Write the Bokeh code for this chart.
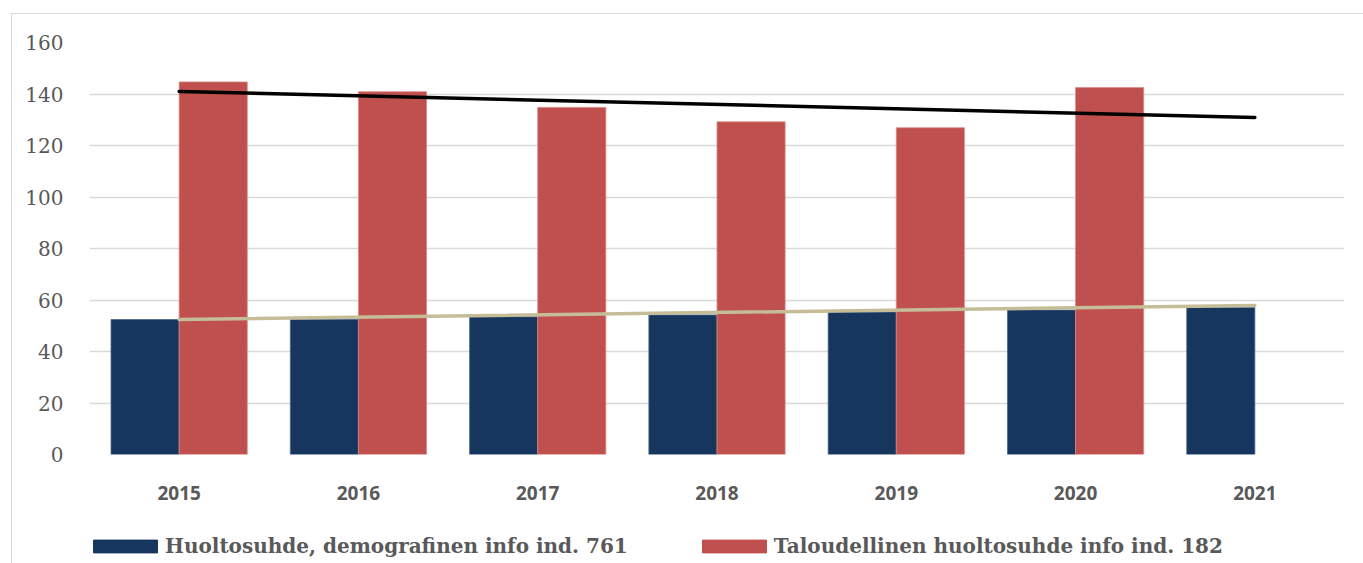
from bokeh.plotting import figure
from bokeh.layouts import column
from bokeh.models import ColumnDataSource, FactorRange, Range1d, Legend, LegendItem, FixedTicker
from bokeh.transform import dodge
from bokeh.embed import file_html
from bokeh.resources import INLINE

years = ["2015", "2016", "2017", "2018", "2019", "2020", "2021"]
demografinen = [52.4, 52.5, 53.5, 54.2, 55.3, 56.1, 57.1]
years_taloudellinen = ["2015", "2016", "2017", "2018", "2019", "2020"]
taloudellinen = [144.7, 140.9, 134.8, 129.2, 126.9, 142.5]
trend_years = ["2015", "2021"]
trend_demografinen = [52.4, 57.9]
trend_taloudellinen = [141.0, 130.9]
y_ticks = [0, 20, 40, 60, 80, 100, 120, 140, 160]
label_demo = "Huoltosuhde, demografinen info ind. 761"
label_econ = "Taloudellinen huoltosuhde info ind. 182"

BLUE = "#17365D"
RED = "#C0504D"
BEIGE = "#C4BD97"
GRID = "#D9D9D9"
TEXT = "#595959"

W = 1352

p = figure(
    width=W, height=500,
    x_range=FactorRange(factors=years, range_padding=0),
    y_range=Range1d(0, 160),
    output_backend="svg", toolbar_location=None,
    min_border_left=77, min_border_right=20, min_border_top=28, min_border_bottom=60,
)
p.outline_line_color = None

src_d = ColumnDataSource(dict(year=years, val=demografinen))
src_t = ColumnDataSource(dict(year=years_taloudellinen, val=taloudellinen))

r_d = p.vbar(x=dodge("year", -0.19, range=p.x_range), top="val", width=0.38, source=src_d,
             fill_color=BLUE, line_color="#4A6A8F", line_width=0.8)
r_t = p.vbar(x=dodge("year", 0.19, range=p.x_range), top="val", width=0.38, source=src_t,
             fill_color=RED, line_color="#D98A88", line_width=0.8)

p.line(x=trend_years, y=trend_demografinen, line_color=BEIGE, line_width=3.5, line_cap="round")
p.line(x=trend_years, y=trend_taloudellinen, line_color="black", line_width=3.5, line_cap="round")

p.xgrid.grid_line_color = None
p.ygrid.grid_line_color = GRID
p.ygrid.grid_line_width = 1.5
p.yaxis.ticker = FixedTicker(ticks=y_ticks)

p.yaxis.axis_line_color = None
p.yaxis.major_tick_line_color = None
p.yaxis.minor_tick_line_color = None
p.yaxis.major_label_text_font = "DejaVu Serif"
p.yaxis.major_label_text_font_size = "20px"
p.yaxis.major_label_text_color = TEXT
p.yaxis.major_label_standoff = 20

p.xaxis.axis_line_color = None
p.xaxis.major_tick_line_color = None
p.xaxis.minor_tick_line_color = None
p.xaxis.major_label_text_font = "Open Sans"
p.xaxis.major_label_text_font_style = "bold"
p.xaxis.major_label_text_font_size = "19px"
p.xaxis.major_label_text_color = TEXT
p.xaxis.major_label_standoff = 25

# legend strip below the chart (its swatch renderers hold the same series, hidden)
pl = figure(
    width=W, height=50,
    x_range=Range1d(0, 7), y_range=Range1d(0, 160),
    output_backend="svg", toolbar_location=None,
    min_border_left=77, min_border_right=20, min_border_top=0, min_border_bottom=0,
)
pl.axis.visible = False
pl.grid.visible = False
pl.outline_line_color = None
src_ld = ColumnDataSource(dict(x=list(range(len(demografinen))), val=demografinen))
src_lt = ColumnDataSource(dict(x=list(range(len(taloudellinen))), val=taloudellinen))
lg_d = pl.vbar(x="x", top="val", width=0.38, source=src_ld, fill_color=BLUE, line_color=BLUE)
lg_t = pl.vbar(x="x", top="val", width=0.38, source=src_lt, fill_color=RED, line_color=RED)
lg_d.visible = False
lg_t.visible = False

legend = Legend(
    items=[LegendItem(label=label_demo, renderers=[lg_d]),
           LegendItem(label=label_econ, renderers=[lg_t])],
    orientation="horizontal",
    location=(-4, 6),
    click_policy="none",
    glyph_width=80, glyph_height=16,
    label_standoff=0, spacing=66,
    padding=0, margin=0,
    label_text_font="DejaVu Serif", label_text_font_style="bold",
    label_text_font_size="20px", label_text_color=TEXT, label_height=22,
    background_fill_alpha=0, border_line_color=None,
)
pl.add_layout(legend)

layout = column(
    p, pl, spacing=0,
    margin=(13, 0, 0, 11),
    styles={"border-left": "1px solid #D9D9D9", "border-top": "1px solid #D9D9D9"},
)

open("out.html", "w").write(file_html(layout, INLINE))
